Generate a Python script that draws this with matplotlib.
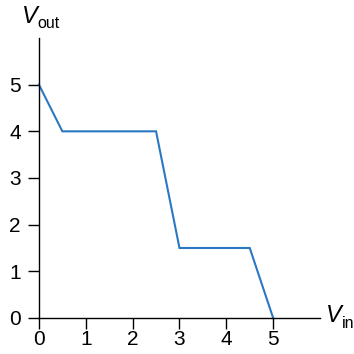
import matplotlib
matplotlib.use("Agg")
import matplotlib.pyplot as plt

plt.rcParams['font.family'] = ['Liberation Sans', 'DejaVu Sans']

vin = [0, 0.5, 2.5, 3, 4.5, 5]
vout = [5, 4, 4, 1.5, 1.5, 0]
xticks = [0, 1, 2, 3, 4, 5]
yticks = [0, 1, 2, 3, 4, 5]

W = H = 354
fig = plt.figure(figsize=(3.54, 3.54), dpi=100)
ax = fig.add_axes([0.110, 0.1017, 0.794, 0.791])
ax.plot(vin, vout, color='#2a78c2', lw=1.5, solid_joinstyle='miter', clip_on=False)
ax.set_xlim(0, 6)
ax.set_ylim(0, 6)
ax.set_xticks(xticks)
ax.set_yticks(yticks)
for s in ['top', 'right']:
    ax.spines[s].set_visible(False)
for s in ['left', 'bottom']:
    ax.spines[s].set_linewidth(1.0)
ax.tick_params(axis='both', direction='out', length=8, width=1.0, labelsize=15)
ax.tick_params(axis='x', pad=1)
ax.tick_params(axis='y', pad=5)

def label(x0, base, sub, xsub, subbase):
    fig.text(x0 / W, 1 - base / H, 'V', fontsize=17, style='italic',
             ha='left', va='baseline')
    fig.text(xsub / W, 1 - subbase / H, sub, fontsize=11.5,
             ha='left', va='baseline')

label(22, 23, 'out', 37, 28)
label(326, 322, 'in', 341.5, 328)

fig.savefig('out.png', dpi=100)
